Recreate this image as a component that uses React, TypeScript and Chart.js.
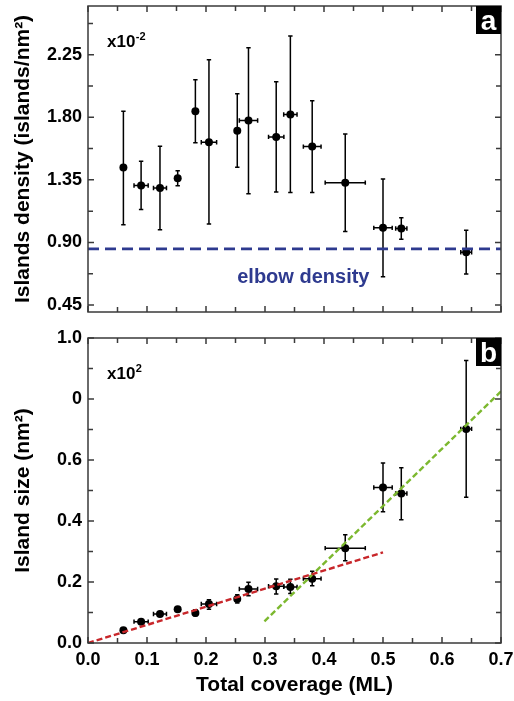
import React, { useEffect, useRef } from 'react';
import { Chart, registerables } from 'chart.js';
Chart.register(...registerables);

// ---------- data ----------
const coverage = [0.060, 0.090, 0.122, 0.152, 0.182, 0.205, 0.253, 0.272, 0.319, 0.343, 0.380, 0.436, 0.500, 0.531, 0.641];
const coverageErr = [0, 0.012, 0.011, 0, 0, 0.013, 0, 0.0155, 0.013, 0.0113, 0.015, 0.034, 0.0156, 0.0095, 0.0092];

const density = [1.438, 1.310, 1.291, 1.361, 1.844, 1.620, 1.704, 1.777, 1.659, 1.820, 1.589, 1.330, 1.005, 1.000, 0.830];
const densityHi = [1.844, 1.483, 1.592, 1.416, 2.070, 2.214, 1.969, 2.300, 2.055, 2.385, 1.918, 1.680, 1.356, 1.077, 0.988];
const densityLo = [1.027, 1.137, 0.991, 1.308, 1.616, 1.032, 1.440, 1.250, 1.262, 1.260, 1.260, 0.979, 0.654, 0.923, 0.673];

const islandSize = [0.0415, 0.070, 0.095, 0.111, 0.098, 0.128, 0.144, 0.177, 0.186, 0.184, 0.211, 0.311, 0.510, 0.490, 0.702];
const islandSizeHi = [0.045, 0.074, 0.099, 0.115, 0.109, 0.142, 0.158, 0.199, 0.210, 0.209, 0.235, 0.355, 0.590, 0.575, 0.926];
const islandSizeLo = [0.038, 0.066, 0.091, 0.107, 0.089, 0.111, 0.131, 0.155, 0.161, 0.162, 0.188, 0.270, 0.430, 0.404, 0.478];

const elbowDensity = 0.854;
const redFitX = [0, 0.5];
const redFitY = [0, 0.297];
const greenFitX = [0.299, 0.7];
const greenFitY = [0.071, 0.825];

const xMajorTicks = [0, 0.1, 0.2, 0.3, 0.4, 0.5, 0.6, 0.7];
const xMinorTicks = [0.05, 0.15, 0.25, 0.35, 0.45, 0.55, 0.65];
const densityMajorTicks = [0.45, 0.9, 1.35, 1.8, 2.25];
const densityMinorTicks = [0.675, 1.125, 1.575, 2.025, 2.475];
const sizeMajorTicks = [0, 0.2, 0.4, 0.6, 0.8, 1.0];
const sizeMinorTicks = [0.1, 0.3, 0.5, 0.7, 0.9];

const FONT = '"Liberation Sans", Arial, Helvetica, sans-serif';
const ELBOW_BLUE = '#2e3a8f';
const RED = '#c8262a';
const GREEN = '#7cb82f';

// ---------- plugins ----------
function errorBarPlugin(yVals: number[], yLo: number[], yHi: number[]) {
  return {
    id: 'errbars',
    beforeDatasetsDraw(chart: any) {
      const { ctx, scales } = chart;
      const xs = scales.x, ys = scales.y;
      ctx.save();
      ctx.strokeStyle = '#000';
      ctx.lineWidth = 1.5;
      const cap = 2.2;
      for (let i = 0; i < coverage.length; i++) {
        const px = xs.getPixelForValue(coverage[i]);
        const py = ys.getPixelForValue(yVals[i]);
        const top = ys.getPixelForValue(yHi[i]);
        const bot = ys.getPixelForValue(yLo[i]);
        ctx.beginPath();
        ctx.moveTo(px, top); ctx.lineTo(px, bot);
        ctx.moveTo(px - cap, top); ctx.lineTo(px + cap, top);
        ctx.moveTo(px - cap, bot); ctx.lineTo(px + cap, bot);
        if (coverageErr[i] > 0) {
          const l = xs.getPixelForValue(coverage[i] - coverageErr[i]);
          const r = xs.getPixelForValue(coverage[i] + coverageErr[i]);
          ctx.moveTo(l, py); ctx.lineTo(r, py);
          ctx.moveTo(l, py - cap); ctx.lineTo(l, py + cap);
          ctx.moveTo(r, py - cap); ctx.lineTo(r, py + cap);
        }
        ctx.stroke();
      }
      ctx.restore();
    },
  };
}

function framePlugin(yMajor: number[], yMinor: number[], letter: string, expo: string, extra?: (chart: any) => void) {
  return {
    id: 'frame',
    afterDraw(chart: any) {
      const { ctx, chartArea: a, scales } = chart;
      const xs = scales.x, ys = scales.y;
      ctx.save();
      ctx.strokeStyle = '#3a3a3a';
      ctx.lineWidth = 1.5;
      ctx.strokeRect(a.left, a.top, a.right - a.left, a.bottom - a.top);
      ctx.beginPath();
      const drawX = (vals: number[], len: number) => {
        vals.forEach((v) => {
          const p = xs.getPixelForValue(v);
          ctx.moveTo(p, a.bottom); ctx.lineTo(p, a.bottom - len);
          ctx.moveTo(p, a.top); ctx.lineTo(p, a.top + len);
        });
      };
      const drawY = (vals: number[], len: number) => {
        vals.forEach((v) => {
          const p = ys.getPixelForValue(v);
          ctx.moveTo(a.left, p); ctx.lineTo(a.left + len, p);
          ctx.moveTo(a.right, p); ctx.lineTo(a.right - len, p);
        });
      };
      drawX(xMajorTicks, 6);
      drawX(xMinorTicks, 5);
      drawY(yMajor, 6);
      drawY(yMinor, 5);
      ctx.stroke();

      // letter box
      ctx.fillStyle = '#000';
      ctx.fillRect(a.right - 25, a.top, 25, 28);
      ctx.fillStyle = '#fff';
      ctx.font = `bold 28px ${FONT}`;
      ctx.textAlign = 'center';
      ctx.textBaseline = 'alphabetic';
      ctx.fillText(letter, a.right - 12.5, a.top + 24);

      // exponent note
      ctx.fillStyle = '#000';
      ctx.textAlign = 'left';
      ctx.font = `bold 17px ${FONT}`;
      const bx = a.left + 19;
      const by = a.top + 41;
      ctx.fillText('x10', bx, by);
      const w = ctx.measureText('x10').width;
      ctx.font = `bold 11px ${FONT}`;
      ctx.fillText(expo, bx + w + 0.5, by - 7);

      if (extra) extra(chart);
      ctx.restore();
    },
  };
}

const tickFont = { family: FONT, size: 18, weight: 'bold' as const };
const titleFont = { family: FONT, size: 21, weight: 'bold' as const };

const fixY = (s: any) => { s.width = 88; s.paddingTop = 0; s.paddingBottom = 0; };
const fixX = (s: any) => { s.height = 58; s.paddingLeft = 0; s.paddingRight = 0; };

export default function App() {
  const topRef = useRef<HTMLCanvasElement>(null);
  const botRef = useRef<HTMLCanvasElement>(null);

  useEffect(() => {
    const top = new Chart(topRef.current!, {
      type: 'scatter',
      data: {
        datasets: [
          {
            data: [{ x: 0, y: elbowDensity }, { x: 0.7, y: elbowDensity }],
            showLine: true,
            pointRadius: 0,
            borderColor: ELBOW_BLUE,
            borderWidth: 2.6,
            borderDash: [11, 6],
          },
          {
            data: coverage.map((x, i) => ({ x, y: density[i] })),
            pointRadius: 4,
            pointBackgroundColor: '#000',
            pointBorderWidth: 0,
            showLine: false,
          },
        ],
      },
      options: {
        responsive: false,
        animation: false,
        devicePixelRatio: 1,
        layout: { padding: { top: 6, right: 13, bottom: 8, left: 0 } },
        plugins: { legend: { display: false }, tooltip: { enabled: false } },
        scales: {
          x: { type: 'linear', min: 0, max: 0.7, display: false },
          y: {
            type: 'linear',
            min: 0.4,
            max: 2.6,
            afterBuildTicks: (s: any) => { s.ticks = densityMajorTicks.map((v) => ({ value: v })); },
            afterFit: fixY,
            grid: { display: false, drawTicks: false },
            border: { display: false },
            ticks: { font: tickFont, color: '#000', padding: 6, callback: (v: any) => Number(v).toFixed(2) },
            title: { display: true, text: 'Islands density (islands/nm²)', font: titleFont, color: '#000', padding: { top: 11, bottom: 0 } },
          },
        },
      },
      plugins: [
        errorBarPlugin(density, densityLo, densityHi),
        framePlugin(densityMajorTicks, densityMinorTicks, 'a', '-2', (chart: any) => {
          const { ctx, scales } = chart;
          const yLine = scales.y.getPixelForValue(elbowDensity);
          ctx.fillStyle = ELBOW_BLUE;
          ctx.font = `bold 20px ${FONT}`;
          ctx.textAlign = 'center';
          ctx.fillText('elbow density', scales.x.getPixelForValue(0.365), yLine + 34);
        }),
      ],
    } as any);

    const bot = new Chart(botRef.current!, {
      type: 'scatter',
      data: {
        datasets: [
          {
            data: redFitX.map((x, i) => ({ x, y: redFitY[i] })),
            showLine: true,
            pointRadius: 0,
            borderColor: RED,
            borderWidth: 2.4,
            borderDash: [6, 3],
          },
          {
            data: greenFitX.map((x, i) => ({ x, y: greenFitY[i] })),
            showLine: true,
            pointRadius: 0,
            borderColor: GREEN,
            borderWidth: 2.4,
            borderDash: [6, 3],
          },
          {
            data: coverage.map((x, i) => ({ x, y: islandSize[i] })),
            pointRadius: 4,
            pointBackgroundColor: '#000',
            pointBorderWidth: 0,
            showLine: false,
          },
        ],
      },
      options: {
        responsive: false,
        animation: false,
        devicePixelRatio: 1,
        layout: { padding: { top: 18, right: 13, bottom: 0, left: 0 } },
        plugins: { legend: { display: false }, tooltip: { enabled: false } },
        scales: {
          x: {
            type: 'linear',
            min: 0,
            max: 0.7,
            afterBuildTicks: (s: any) => { s.ticks = xMajorTicks.map((v) => ({ value: v })); },
            afterFit: fixX,
            grid: { display: false, drawTicks: false },
            border: { display: false },
            ticks: { font: tickFont, color: '#000', padding: 6, maxRotation: 0, callback: (v: any) => Number(v).toFixed(1) },
            title: { display: true, text: 'Total coverage (ML)', font: titleFont, color: '#000', padding: { top: 0, bottom: 3 } },
          },
          y: {
            type: 'linear',
            min: 0,
            max: 1.0,
            afterBuildTicks: (s: any) => { s.ticks = sizeMajorTicks.map((v) => ({ value: v })); },
            afterFit: fixY,
            grid: { display: false, drawTicks: false },
            border: { display: false },
            ticks: {
              font: tickFont,
              color: '#000',
              padding: 6,
              callback: (v: any) => (Math.abs(Number(v) - 0.8) < 1e-6 ? '0' : Number(v).toFixed(1)),
            },
            title: { display: true, text: 'Island size (nm²)', font: titleFont, color: '#000', padding: { top: 11, bottom: 0 } },
          },
        },
      },
      plugins: [
        errorBarPlugin(islandSize, islandSizeLo, islandSizeHi),
        framePlugin(sizeMajorTicks, sizeMinorTicks, 'b', '2'),
      ],
    } as any);

    return () => {
      top.destroy();
      bot.destroy();
    };
  }, []);

  return (
    <div style={{ position: 'absolute', left: 0, top: 0, width: 514, height: 701, background: '#fff' }}>
      <canvas ref={topRef} width={514} height={320} style={{ position: 'absolute', left: 0, top: 0, width: 514, height: 320 }} />
      <canvas ref={botRef} width={514} height={381} style={{ position: 'absolute', left: 0, top: 320, width: 514, height: 381 }} />
    </div>
  );
}
